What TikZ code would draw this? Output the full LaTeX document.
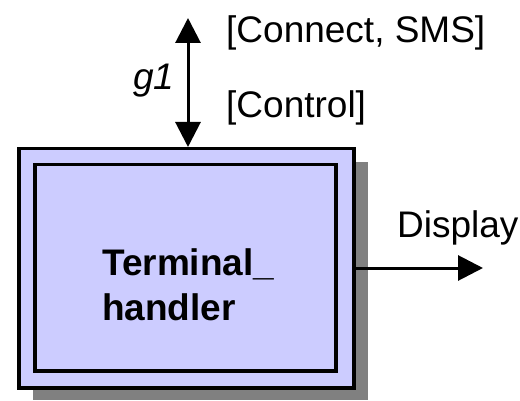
\documentclass[tikz,border=0pt]{standalone}
\usepackage{fontspec}
\setmainfont{Liberation Sans}
\usetikzlibrary{arrows.meta}
\definecolor{boxfill}{HTML}{CCCCFF}
\definecolor{shadowgray}{HTML}{808080}
\begin{document}
\begin{tikzpicture}[x=1pt,y=-1pt,
  lbl/.style={font=\fontsize{37}{44}\selectfont, inner sep=0pt, anchor=base west},
  conn/.style={line width=3pt, -{Triangle[length=25pt,width=25pt]}},
  bconn/.style={line width=3pt, {Triangle[length=25pt,width=25pt]}-{Triangle[length=25pt,width=25pt]}},
  frame/.style={line width=3.5pt}]
\useasboundingbox (0,0) rectangle (520,401);
% shadow
\fill[shadowgray] (33,162) rectangle (368,400);
% outer box
\node[draw, frame, fill=boxfill, minimum width=335pt, minimum height=239pt, inner sep=0pt, anchor=north west] (box) at (17,147) {};
% inner box
\node[draw, frame, minimum width=301pt, minimum height=206pt, inner sep=0pt, anchor=north west] (inner) at (33,163) {};
% text
\node[lbl, font=\fontsize{37}{44}\selectfont\bfseries] (t1) at (102,276) {Terminal\_};
\node[lbl, font=\fontsize{37}{44}\selectfont\bfseries] (t2) at (102,320) {handler};
% top connector
\coordinate (top) at (188,18);
\draw[bconn] (top) -- (box.north -| top);
\node[lbl] (c1) at (226,43) {[Connect, SMS]};
\node[lbl] (c2) at (226,118) {[Control]};
\node[lbl, font=\fontsize{37}{44}\selectfont\itshape] (g) at (133,90) {g1};
% display connector
\coordinate (disp) at (483,268);
\draw[conn] (box.east |- disp) -- (disp);
\node[lbl] (d) at (397,237) {Display};
\end{tikzpicture}
\end{document}
